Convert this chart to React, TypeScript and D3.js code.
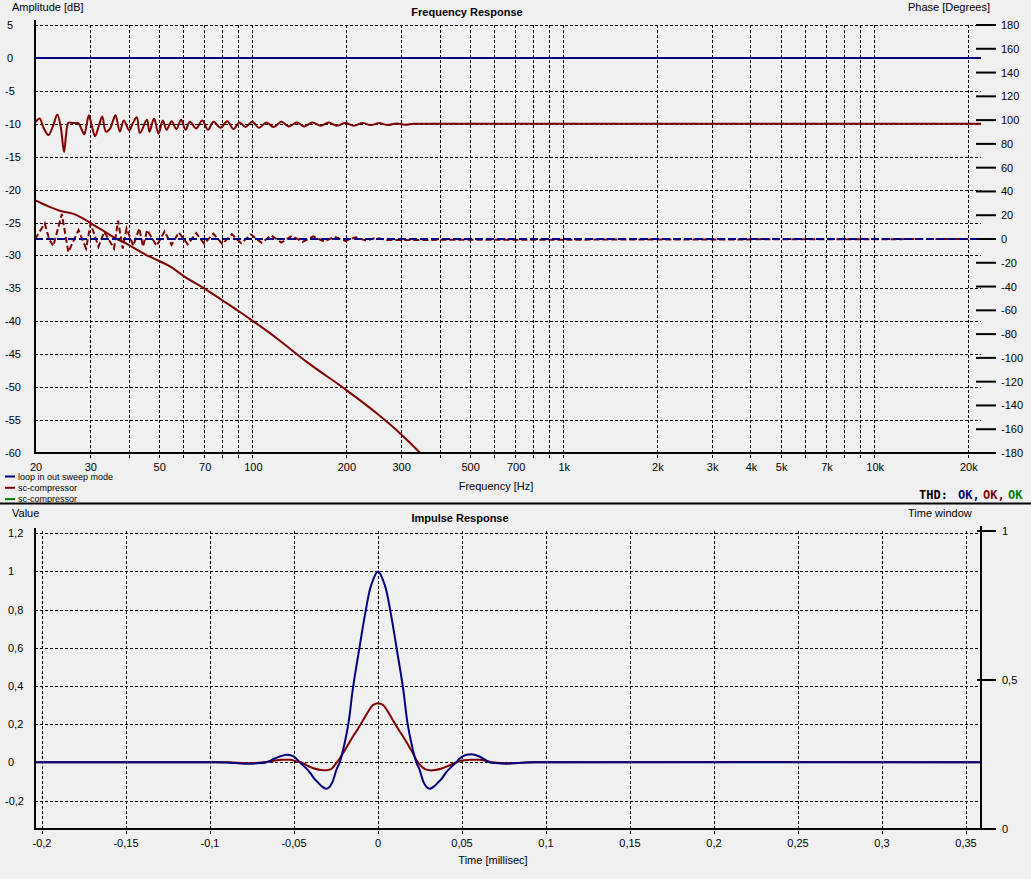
import React from 'react';
import * as d3 from 'd3';

// ---- frequency response data ----
const freqGrid = [30, 40, 50, 60, 70, 80, 90, 100, 200, 300, 400, 500, 600, 700, 800, 900,
  1000, 2000, 3000, 4000, 5000, 6000, 7000, 8000, 9000, 10000, 20000];
const freqTicks = [20, 30, 50, 70, 100, 200, 300, 500, 700, 1000, 2000, 3000, 4000, 5000, 7000, 10000, 20000];
const freqTickLabels = ['20', '30', '50', '70', '100', '200', '300', '500', '700', '1k', '2k', '3k', '4k', '5k', '7k', '10k', '20k'];
const dbTicks = [5, 0, -5, -10, -15, -20, -25, -30, -35, -40, -45, -50, -55, -60];
const phaseTicks = [180, 160, 140, 120, 100, 80, 60, 40, 20, 0, -20, -40, -60, -80, -100, -120, -140, -160, -180];

// loop in out sweep mode (blue)
const loopFreq = [20, 22050];
const loopDb = [0, 0];
const loopPhase = [0, 0];

// sc-compressor amplitude (red, noisy around -10 dB)
const compAmpFreq = [20, 20.7, 21.3, 22.1, 22.9, 23.6, 24.2, 24.8, 25.2, 25.6, 26.5, 27.6, 28.2, 28.8, 29.3, 29.8,
  30.5, 31.2, 32, 32.9, 33.8, 34.9, 35.6, 36.3, 37.5, 38.6, 40.2, 41.3, 42.5, 43.5, 45.8, 46.7, 48.3, 49.9,
  51.5, 53, 55, 57, 59, 61, 63, 66, 69, 72, 75, 79, 83, 87, 91, 95, 100, 105, 111, 117, 124, 131, 139, 147,
  156, 166, 176, 187, 199, 212, 226, 240, 256, 273, 290, 310, 330, 360, 400, 1000, 5000, 22050];
const compAmpDb = [-9.85, -9.2, -10.6, -11.7, -10.2, -8.6, -10.5, -14.3, -11.5, -9.85, -9.9, -9.95, -10.8, -11.6, -10.2, -8.7,
  -10.4, -11.9, -10.5, -8.9, -11.2, -10.7, -9.6, -8.7, -11.2, -9.5, -11.0, -9.9, -9.0, -11.4, -9.4, -11.2, -9.2, -11.5,
  -9.5, -10.9, -9.6, -10.8, -9.4, -10.9, -9.7, -10.7, -9.5, -10.9, -9.7, -10.6, -9.6, -10.8, -9.8, -10.5, -9.7, -10.6, -9.8, -10.5, -9.7, -10.4, -9.8, -10.4,
  -9.8, -10.3, -9.8, -10.3, -9.9, -10.3, -9.9, -10.2, -9.9, -10.2, -9.95, -10.15, -10.0, -10.0, -10.0, -10.0, -10.0, -10.0];

// sc-compressor phase (red dashed, noisy around 0 deg)
const compPhaseFreq = [20, 21.5, 22.2, 22.9, 24.4, 25.6, 27.6, 29.2, 30.2, 32, 33.4, 35.9, 37, 38.3, 39.4, 41.4,
  43.3, 44.5, 45.9, 49.2, 52.2, 55, 58, 62, 66, 70, 75, 80, 86, 92, 99, 107, 115, 124, 134, 145, 157, 170, 184,
  199, 215, 232, 250, 270, 22050];
const compPhaseDeg = [0, 13, 0, -6, 21, -11, 7.5, -8, 13, -6.5, 6, -8, 15.5, -8, 9, -5.7,
  9, -6.5, 7.5, -5.7, 6.4, -5, 5.5, -4.5, 5, -4, 4.5, -4.2, 4, -3.5, 3.8, -3.2, 3, -3, 2.6, -2.4, 2.2, -2, 1.8,
  -1.6, 1.5, -1.2, 1, -0.8, 0];

// sc-compressor roll-off (red)
const rollFreq = [20, 22, 24, 27, 30, 33, 36, 40, 45, 50, 55, 60, 70, 80, 90, 100, 120, 150, 200, 250, 300, 350, 380];
const rollDb = [-21.6, -22.5, -23.2, -23.8, -25.0, -26.2, -27.3, -28.4, -29.8, -30.8, -31.8, -33.1, -35.0, -36.8,
  -38.4, -39.9, -42.6, -46.2, -50.4, -53.9, -57.1, -60.2, -62];

// ---- impulse response data ----
const timeTicks = [-0.2, -0.15, -0.1, -0.05, 0, 0.05, 0.1, 0.15, 0.2, 0.25, 0.3, 0.35];
const timeTickLabels = ['-0,2', '-0,15', '-0,1', '-0,05', '0', '0,05', '0,1', '0,15', '0,2', '0,25', '0,3', '0,35'];
const valueTicks = [1.2, 1, 0.8, 0.6, 0.4, 0.2, 0, -0.2];
const valueTickLabels = ['1,2', '1', '0,8', '0,6', '0,4', '0,2', '0', '-0,2'];
const windowTicks = [1, 0.5, 0];
const windowTickLabels = ['1', '0,5', '0'];

const loopImpT = [-0.205, -0.1, -0.09, -0.085, -0.08, -0.075, -0.07, -0.0664, -0.062, -0.058, -0.054, -0.05, -0.0466,
  -0.0435, -0.0407, -0.038, -0.036, -0.0335, -0.031, -0.029, -0.0272, -0.0246, -0.0228, -0.02, -0.0174, -0.0149,
  -0.0113, -0.0075, -0.004, 0, 0.004, 0.0075, 0.0113, 0.0149, 0.0174, 0.02, 0.0228, 0.0246, 0.0272, 0.029, 0.031,
  0.0335, 0.036, 0.038, 0.0407, 0.0435, 0.0466, 0.05, 0.0556, 0.06, 0.0665, 0.07, 0.0764, 0.082, 0.088, 0.095, 0.36];
const loopImpV = [0, 0, -0.001, -0.004, -0.007, -0.007, -0.004, 0, 0.018, 0.032, 0.04, 0.03, 0,
  -0.025, -0.051, -0.085, -0.103, -0.125, -0.138, -0.13, -0.105, -0.035, 0, 0.095, 0.215, 0.39,
  0.586, 0.786, 0.93, 1.0, 0.93, 0.786, 0.586, 0.39, 0.215, 0.095, 0, -0.035, -0.105, -0.13, -0.138,
  -0.125, -0.103, -0.085, -0.051, -0.025, 0, 0.03, 0.042, 0.032, 0, -0.004, -0.007, -0.004, -0.001, 0, 0];

const compImpT = [-0.205, -0.095, -0.088, -0.08, -0.074, -0.068, -0.062, -0.057, -0.052, -0.049, -0.0456, -0.042,
  -0.038, -0.034, -0.031, -0.028, -0.0245, -0.0228, -0.02, -0.016, -0.012, -0.0089, -0.006, -0.003, 0, 0.003,
  0.006, 0.0089, 0.012, 0.016, 0.02, 0.0238, 0.028, 0.0308, 0.034, 0.038, 0.042, 0.0466, 0.05, 0.055, 0.06,
  0.064, 0.068, 0.074, 0.08, 0.086, 0.092, 0.36];
const compImpV = [0, 0, 0, -0.004, -0.004, 0, 0.008, 0.013, 0.013, 0.006, 0, -0.018,
  -0.032, -0.04, -0.042, -0.036, 0, 0.02, 0.06, 0.12, 0.175, 0.22, 0.264, 0.3, 0.31, 0.3,
  0.264, 0.22, 0.175, 0.12, 0.06, 0, -0.036, -0.042, -0.04, -0.032, -0.018, 0, 0.01, 0.013, 0.013,
  0.008, 0, -0.005, -0.005, -0.002, 0, 0];

const NAVY = '#000080';
const MAROON = '#800000';
const GREEN = '#008000';
const FONT = 'Liberation Sans, Arial, sans-serif';

function App() {
  // top chart scales
  const x = d3.scaleLog().domain([20, 22050]).range([35, 981]);
  const yDb = d3.scaleLinear().domain([-60, 5]).range([453, 25]);
  const yPh = d3.scaleLinear().domain([-180, 180]).range([453, 25]);

  // bottom chart scales
  const xt = d3.scaleLinear().domain([-0.2, 0.35]).range([42, 966]);
  const yv = d3.scaleLinear().domain([-0.2, 1.2]).range([800.5, 533.3]);
  const yw = d3.scaleLinear().domain([0, 1]).range([829, 531]);

  const mk = (fx: number[], vals: number[], ys: (v: number) => number, curve: d3.CurveFactory = d3.curveLinear) =>
    d3.line<number>().x(d => x(d)).y((d, i) => ys(vals[i])).curve(curve)(fx) || '';
  const mkImp = (ts: number[], vals: number[]) =>
    d3.line<number>().x(d => xt(d)).y((d, i) => yv(vals[i])).curve(d3.curveCatmullRom.alpha(0.5))(ts) || '';

  const small = { fontFamily: FONT, fontSize: 11, fill: '#000' } as const;

  return (
    <svg width={1031} height={879} style={{ position: 'absolute', left: 0, top: 0, background: '#f0f0f0' }}>
      <rect x={0} y={0} width={1031} height={879} fill="#f0f0f0" />
      <defs>
        <clipPath id="topClip"><rect x={35} y={25} width={946} height={428} /></clipPath>
        <clipPath id="botClip"><rect x={35} y={528} width={946} height={301} /></clipPath>
      </defs>

      {/* ===== Frequency response ===== */}
      <text x={12} y={11} {...small}>Amplitude [dB]</text>
      <text x={467} y={16} {...small} fontWeight="bold" textAnchor="middle">Frequency Response</text>
      <text x={908} y={11} {...small}>Phase [Degrees]</text>

      {/* horizontal grid */}
      {dbTicks.filter(d => d !== -60).map(d => (
        <line key={'hg' + d} x1={35} x2={981} y1={Math.round(yDb(d)) + 0.5} y2={Math.round(yDb(d)) + 0.5}
          stroke="#000" strokeWidth={1} strokeDasharray="3,2" shapeRendering="crispEdges" />
      ))}
      {/* vertical grid */}
      {freqGrid.map(f => (
        <line key={'vg' + f} x1={Math.round(x(f)) + 0.5} x2={Math.round(x(f)) + 0.5} y1={25} y2={458}
          stroke="#000" strokeWidth={1} strokeDasharray="3,2" shapeRendering="crispEdges" />
      ))}

      {/* left axis labels */}
      {dbTicks.map(d => (
        <text key={'dl' + d} x={d < 0 ? 5 : 7} y={yDb(d) + 4} {...small}>{d}</text>
      ))}
      {/* right phase ticks */}
      {phaseTicks.map(p => (
        <g key={'pt' + p}>
          <line x1={976} x2={996} y1={yPh(p)} y2={yPh(p)} stroke="#000" strokeWidth={2} />
          <text x={1001} y={yPh(p) + 4} {...small}>{p}</text>
        </g>
      ))}
      {/* x tick labels */}
      {freqTicks.map((f, i) => (
        <text key={'fl' + f} x={x(f) + 1} y={471} {...small} textAnchor="middle">{freqTickLabels[i]}</text>
      ))}
      <text x={496} y={490} {...small} textAnchor="middle">Frequency [Hz]</text>

      {/* curves */}
      <g clipPath="url(#topClip)" fill="none" strokeWidth={2}>
        <path d={mk(rollFreq, rollDb, yDb, d3.curveMonotoneX)} stroke={MAROON} />
        <path d={mk(compAmpFreq, compAmpDb, yDb, d3.curveCatmullRom.alpha(0.5))} stroke={MAROON} />
        <path d={mk(loopFreq, loopDb, yDb)} stroke={NAVY} />
        <path d={mk(compPhaseFreq, compPhaseDeg, yPh)} stroke={MAROON} strokeDasharray="6,3" />
        <path d={mk(loopFreq, loopPhase, yPh)} stroke={NAVY} strokeDasharray="8,3" />
      </g>

      {/* axes */}
      <line x1={35} x2={35} y1={20} y2={454} stroke="#000" strokeWidth={2} />
      <line x1={34} x2={996} y1={453} y2={453} stroke="#000" strokeWidth={2} />

      {/* legend */}
      {[['loop in out sweep mode', NAVY], ['sc-compressor', MAROON], ['sc-compressor', GREEN]].map(([t, c], i) => (
        <g key={'lg' + i}>
          <line x1={5} x2={15} y1={476.5 + i * 11.3} y2={476.5 + i * 11.3} stroke={c} strokeWidth={2} />
          <text x={18} y={479.5 + i * 11.3} fontFamily={FONT} fontSize={9} fill="#000">{t}</text>
        </g>
      ))}

      {/* THD */}
      <g fontFamily="DejaVu Sans Mono, monospace" fontSize={12} fontWeight="bold">
        <text x={919} y={499} fill="#000">THD:</text>
        <text x={958} y={499} fill={NAVY}>OK,</text>
        <text x={983} y={499} fill={MAROON}>OK,</text>
        <text x={1008} y={499} fill={GREEN}>OK</text>
      </g>

      {/* separator */}
      <line x1={0} x2={1031} y1={503.5} y2={503.5} stroke="#000" strokeWidth={2} />

      {/* ===== Impulse response ===== */}
      <text x={12} y={517} {...small}>Value</text>
      <text x={460} y={522} {...small} fontWeight="bold" textAnchor="middle">Impulse Response</text>
      <text x={908} y={517} {...small}>Time window</text>

      {valueTicks.map(v => (
        <line key={'bh' + v} x1={35} x2={981} y1={Math.round(yv(v)) + 0.5} y2={Math.round(yv(v)) + 0.5}
          stroke="#000" strokeWidth={1} strokeDasharray="3,2" shapeRendering="crispEdges" />
      ))}
      {timeTicks.map(t => (
        <line key={'bv' + t} x1={Math.round(xt(t)) + 0.5} x2={Math.round(xt(t)) + 0.5} y1={531} y2={835}
          stroke="#000" strokeWidth={1} strokeDasharray="3,2" shapeRendering="crispEdges" />
      ))}
      {valueTicks.map((v, i) => (
        <text key={'vl' + v} x={v < 0 ? 5 : 8} y={yv(v) + 4} {...small}>{valueTickLabels[i]}</text>
      ))}
      {timeTicks.map((t, i) => (
        <text key={'tl' + t} x={xt(t)} y={847} {...small} textAnchor="middle">{timeTickLabels[i]}</text>
      ))}
      <text x={493} y={864} {...small} textAnchor="middle">Time [millisec]</text>

      <g clipPath="url(#botClip)" fill="none" strokeWidth={2}>
        <path d={mkImp(compImpT, compImpV)} stroke={MAROON} />
        <path d={mkImp(loopImpT, loopImpV)} stroke={NAVY} />
      </g>

      <line x1={35} x2={35} y1={528} y2={830} stroke="#000" strokeWidth={2} />
      <line x1={34} x2={982} y1={829} y2={829} stroke="#000" strokeWidth={2} />
      <line x1={981} x2={981} y1={526} y2={830} stroke="#000" strokeWidth={2} />
      {windowTicks.map((w, i) => (
        <g key={'wt' + w}>
          <line x1={977} x2={996} y1={yw(w)} y2={yw(w)} stroke="#000" strokeWidth={2} />
          <text x={1002} y={yw(w) + 4} {...small}>{windowTickLabels[i]}</text>
        </g>
      ))}
    </svg>
  );
}

export default App;
